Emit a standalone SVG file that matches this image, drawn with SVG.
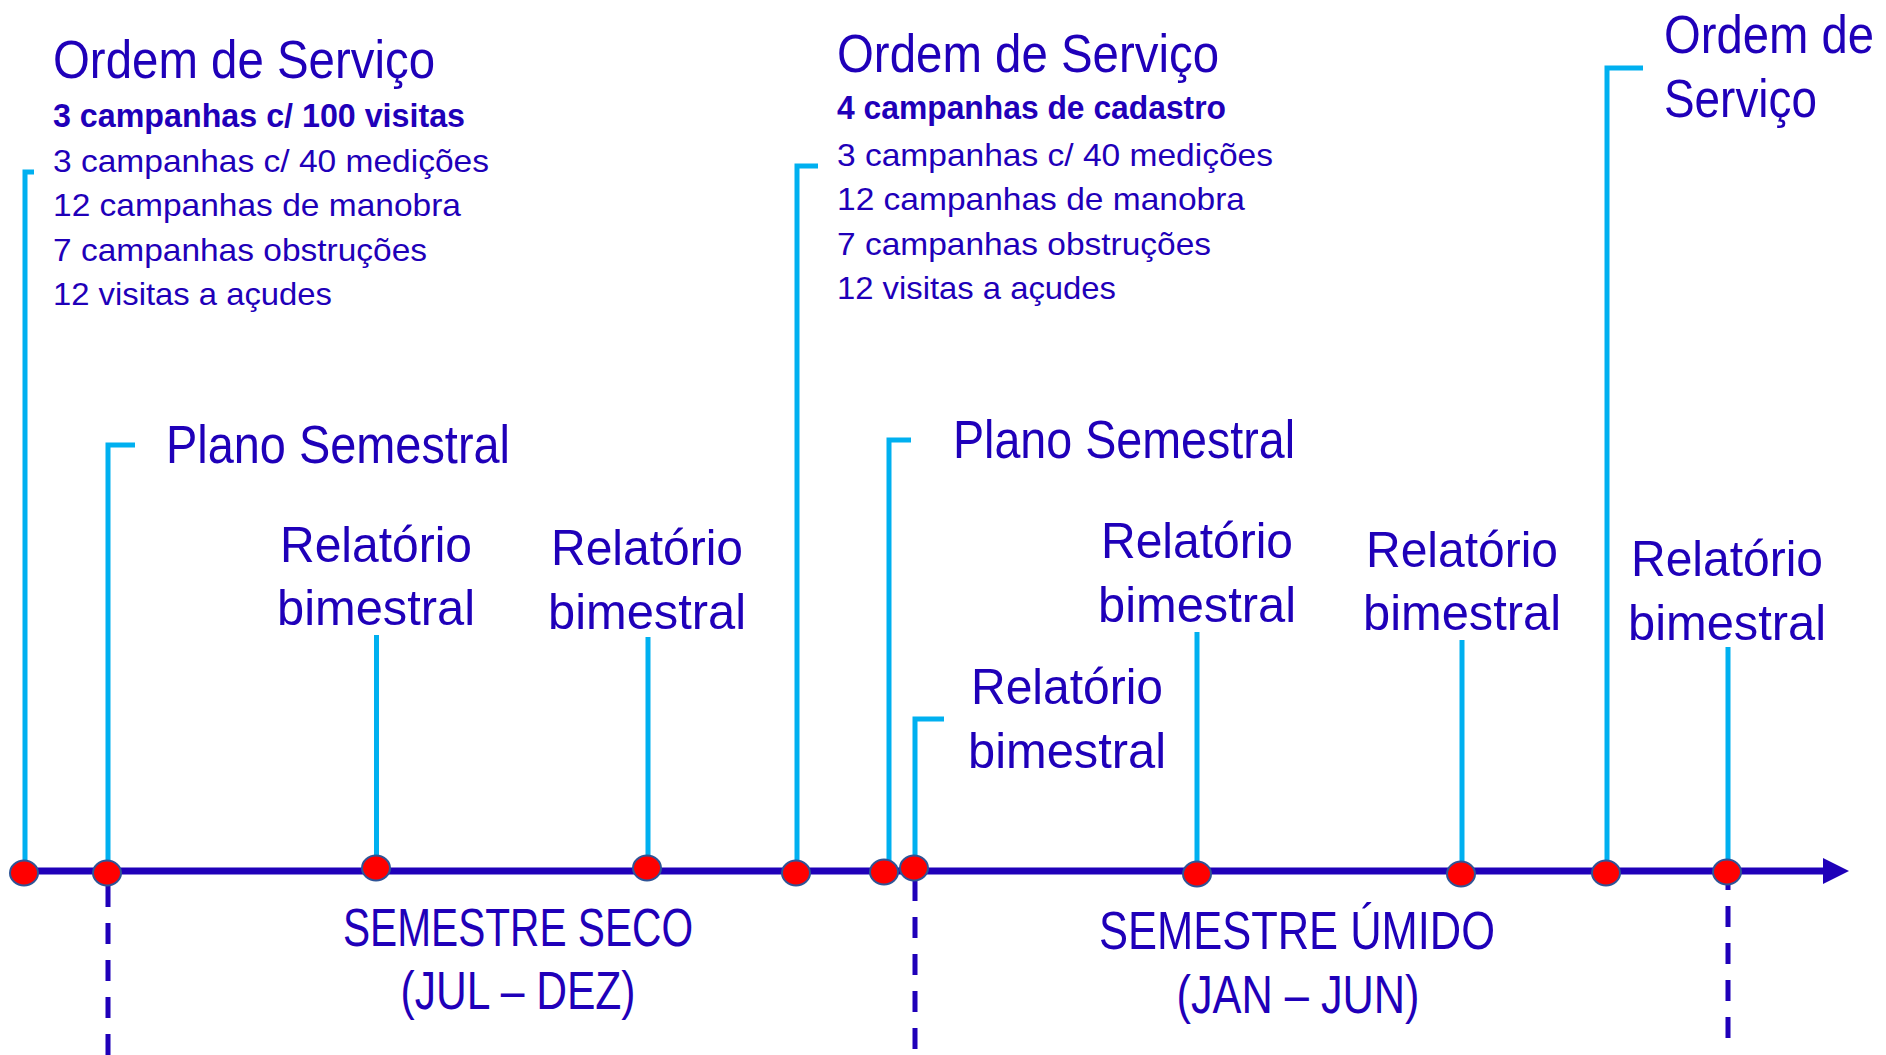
<svg xmlns="http://www.w3.org/2000/svg" width="1886" height="1055" viewBox="0 0 1886 1055">
<style>
text{font-family:"Liberation Sans",Arial,sans-serif;fill:#1F00B9}
.big{font-size:53px}
.rel{font-size:50px;text-anchor:middle}
.reg{font-size:32px}
.bold{font-size:33px;font-weight:bold}
.sem{font-size:53px;text-anchor:middle}
.lead{fill:none;stroke:#00B0F0;stroke-width:5}
.dash{stroke:#1F00B9;stroke-width:5;stroke-dasharray:21 16;fill:none}
.dot{fill:#FF0000;stroke:#2F5496;stroke-width:2}
</style>
<g id="connectors">
<path class="lead" d="M34,172 H25 V873"/>
<path class="lead" d="M135,445 H108 V873"/>
<path class="lead" d="M376.5,635 V868"/>
<path class="lead" d="M648,637 V868"/>
<path class="lead" d="M818,166 H797 V873"/>
<path class="lead" d="M911,440 H889 V872"/>
<path class="lead" d="M944,719 H915 V868"/>
<path class="lead" d="M1197,632 V874"/>
<path class="lead" d="M1462,640 V874"/>
<path class="lead" d="M1643,68 H1607 V873"/>
<path class="lead" d="M1728,647 V872"/>
<line x1="14" y1="871" x2="1826" y2="871" stroke="#1F00B9" stroke-width="7"/>
<polygon points="1823,858 1849,871 1823,884" fill="#1F00B9"/>
<line class="dash" x1="108" y1="886" x2="108" y2="1055"/>
<line class="dash" x1="915" y1="880" x2="915" y2="1055"/>
<line class="dash" x1="1728" y1="869" x2="1728" y2="1040"/>
</g>
<g id="dots">
<ellipse class="dot" cx="24" cy="873" rx="14" ry="12.5"/>
<ellipse class="dot" cx="107" cy="873" rx="14" ry="12.5"/>
<ellipse class="dot" cx="376" cy="868" rx="14" ry="12.5"/>
<ellipse class="dot" cx="647" cy="868" rx="14" ry="12.5"/>
<ellipse class="dot" cx="796" cy="873" rx="14" ry="12.5"/>
<ellipse class="dot" cx="884" cy="872" rx="14" ry="12.5"/>
<ellipse class="dot" cx="914" cy="868" rx="14" ry="12.5"/>
<ellipse class="dot" cx="1197" cy="874" rx="14" ry="12.5"/>
<ellipse class="dot" cx="1461" cy="874" rx="14" ry="12.5"/>
<ellipse class="dot" cx="1606" cy="873" rx="14" ry="12.5"/>
<ellipse class="dot" cx="1727" cy="872" rx="14" ry="12.5"/>
</g>
<g id="os1">
<text class="big" x="53" y="78" textLength="382" lengthAdjust="spacingAndGlyphs">Ordem de Serviço</text>
<text class="bold" x="53" y="127" textLength="412" lengthAdjust="spacingAndGlyphs">3 campanhas c/ 100 visitas</text>
<text class="reg" x="53" y="172" textLength="436" lengthAdjust="spacingAndGlyphs">3 campanhas c/ 40 medições</text>
<text class="reg" x="53" y="216" textLength="408" lengthAdjust="spacingAndGlyphs">12 campanhas de manobra</text>
<text class="reg" x="53" y="261" textLength="374" lengthAdjust="spacingAndGlyphs">7 campanhas obstruções</text>
<text class="reg" x="53" y="305" textLength="279" lengthAdjust="spacingAndGlyphs">12 visitas a açudes</text>
</g>
<g id="os2">
<text class="big" x="837" y="72" textLength="382" lengthAdjust="spacingAndGlyphs">Ordem de Serviço</text>
<text class="bold" x="837" y="119" textLength="389" lengthAdjust="spacingAndGlyphs">4 campanhas de cadastro</text>
<text class="reg" x="837" y="166" textLength="436" lengthAdjust="spacingAndGlyphs">3 campanhas c/ 40 medições</text>
<text class="reg" x="837" y="210" textLength="408" lengthAdjust="spacingAndGlyphs">12 campanhas de manobra</text>
<text class="reg" x="837" y="255" textLength="374" lengthAdjust="spacingAndGlyphs">7 campanhas obstruções</text>
<text class="reg" x="837" y="299" textLength="279" lengthAdjust="spacingAndGlyphs">12 visitas a açudes</text>
</g>
<g id="os3">
<text class="big" x="1664" y="53" textLength="210" lengthAdjust="spacingAndGlyphs">Ordem de</text>
<text class="big" x="1664" y="117" textLength="153" lengthAdjust="spacingAndGlyphs">Serviço</text>
</g>
<g id="plano1">
<text class="big" x="166" y="463" textLength="344" lengthAdjust="spacingAndGlyphs">Plano Semestral</text>
</g>
<g id="plano2">
<text class="big" x="953" y="458" textLength="342" lengthAdjust="spacingAndGlyphs">Plano Semestral</text>
</g>
<g id="rel1">
<text class="rel" x="376" y="562" textLength="192" lengthAdjust="spacingAndGlyphs">Relatório</text>
<text class="rel" x="376" y="625" textLength="198" lengthAdjust="spacingAndGlyphs">bimestral</text>
</g>
<g id="rel2">
<text class="rel" x="647" y="565" textLength="192" lengthAdjust="spacingAndGlyphs">Relatório</text>
<text class="rel" x="647" y="629" textLength="198" lengthAdjust="spacingAndGlyphs">bimestral</text>
</g>
<g id="rel3">
<text class="rel" x="1067" y="704" textLength="192" lengthAdjust="spacingAndGlyphs">Relatório</text>
<text class="rel" x="1067" y="768" textLength="198" lengthAdjust="spacingAndGlyphs">bimestral</text>
</g>
<g id="rel4">
<text class="rel" x="1197" y="558" textLength="192" lengthAdjust="spacingAndGlyphs">Relatório</text>
<text class="rel" x="1197" y="622" textLength="198" lengthAdjust="spacingAndGlyphs">bimestral</text>
</g>
<g id="rel5">
<text class="rel" x="1462" y="567" textLength="192" lengthAdjust="spacingAndGlyphs">Relatório</text>
<text class="rel" x="1462" y="630" textLength="198" lengthAdjust="spacingAndGlyphs">bimestral</text>
</g>
<g id="rel6">
<text class="rel" x="1727" y="576" textLength="192" lengthAdjust="spacingAndGlyphs">Relatório</text>
<text class="rel" x="1727" y="640" textLength="198" lengthAdjust="spacingAndGlyphs">bimestral</text>
</g>
<g id="seco">
<text class="sem" x="518" y="946" textLength="350" lengthAdjust="spacingAndGlyphs">SEMESTRE SECO</text>
<text class="sem" x="518" y="1009" textLength="235" lengthAdjust="spacingAndGlyphs">(JUL – DEZ)</text>
</g>
<g id="umido">
<text class="sem" x="1297" y="949" textLength="396" lengthAdjust="spacingAndGlyphs">SEMESTRE ÚMIDO</text>
<text class="sem" x="1298" y="1013" textLength="243" lengthAdjust="spacingAndGlyphs">(JAN – JUN)</text>
</g>
</svg>
